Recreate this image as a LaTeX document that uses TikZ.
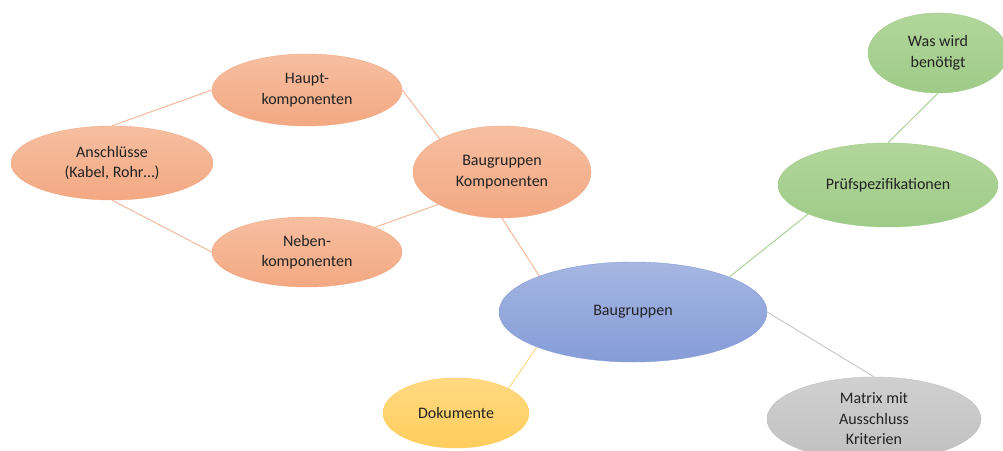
\documentclass[tikz,border=0pt]{standalone}
\usepackage{fontspec}
\setmainfont{Carlito}
\usetikzlibrary{shapes.geometric}

\definecolor{orTop}{HTML}{F6BFA1}
\definecolor{orBot}{HTML}{F3A882}
\definecolor{blTop}{HTML}{A5B6E2}
\definecolor{blBot}{HTML}{859CD7}
\definecolor{grTop}{HTML}{B2D69B}
\definecolor{grBot}{HTML}{9ECB87}
\definecolor{gyTop}{HTML}{D0D0D0}
\definecolor{gyBot}{HTML}{C0C0C0}
\definecolor{yeTop}{HTML}{FFD982}
\definecolor{yeBot}{HTML}{FFCD5C}
\definecolor{txt}{HTML}{222222}

\tikzset{
  bubble/.style={ellipse, inner sep=0pt, align=center, text=txt,
    font=\fontsize{16}{20.5}\selectfont, line width=0.4pt},
  orangeb/.style={bubble, top color=orTop, bottom color=orBot, draw=orBot},
  blueb/.style={bubble, top color=blTop, bottom color=blBot, draw=blBot},
  greenb/.style={bubble, top color=grTop, bottom color=grBot, draw=grBot},
  grayb/.style={bubble, top color=gyTop, bottom color=gyBot, draw=gyBot},
  yellowb/.style={bubble, top color=yeTop, bottom color=yeBot, draw=yeBot},
  link/.style={line width=1pt},
}

\begin{document}
\begin{tikzpicture}[x=1pt,y=-1pt]
  \useasboundingbox (0,0) rectangle (1003,450);
  \clip (0,0) rectangle (1003,450);
  \fill[white] (0,0) rectangle (1003,450);

  % bubbles
  \node[orangeb, minimum width=202pt, minimum height=74pt] (A) at (112,163) {Anschlüsse\\(Kabel, Rohr…)};
  \node[orangeb, minimum width=190pt, minimum height=72pt] (H) at (307,90) {Haupt-\\komponenten};
  \node[orangeb, minimum width=190pt, minimum height=70pt] (N) at (307,252) {Neben-\\komponenten};
  \node[orangeb, minimum width=178pt, minimum height=92pt] (BK) at (502,172) {Baugruppen\\Komponenten};
  \node[blueb, minimum width=268pt, minimum height=100pt] (B) at (633,312) {Baugruppen};
  \node[yellowb, minimum width=146pt, minimum height=70pt] (D) at (456,413) {Dokumente};
  \node[grayb, minimum width=214pt, minimum height=84pt] (M) at (874,419) {Matrix mit\\Ausschluss\\Kriterien};
  \node[greenb, minimum width=220pt, minimum height=84pt] (P) at (888,185) {Prüfspezifikationen};
  \node[greenb, minimum width=140pt, minimum height=80pt] (W) at (938,53) {Was wird\\benötigt};

  % connectors
  \draw[link, draw=orBot!80] (A.north) -- (H.west);
  \draw[link, draw=orBot!80] (A.south) -- (N.west);
  \draw[link, draw=orBot!80] (H.east) -- (BK.152.7);
  \draw[link, draw=orBot!80] (N.20.2) -- (BK.207.3);
  \draw[link, draw=orBot!80] (BK.south) -- (B.159.5);
  \draw[link, draw=grBot!85] (B.20.5) -- (P.200.9);
  \draw[link, draw=grBot!85] (W.south) -- (P.north);
  \draw[link, draw=gyBot!85] (B.east) -- (M.north);
  \draw[link, draw=yeBot!75] (B.200.5) -- (D.25.6);
\end{tikzpicture}
\end{document}
